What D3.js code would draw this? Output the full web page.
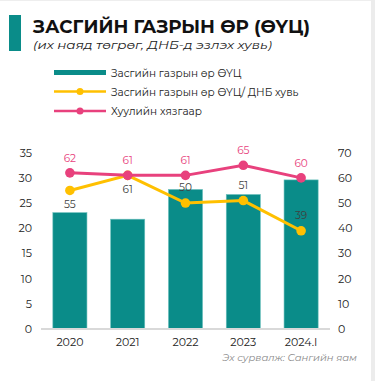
<!DOCTYPE html>
<html>
<head>
<meta charset="utf-8">
<script src="https://cdn.jsdelivr.net/npm/d3@7"></script>
<style>
  html, body { margin: 0; padding: 0; background: #fff; }
  svg { display: block; }
</style>
</head>
<body>
<svg id="chart" width="375" height="381"></svg>
<script>
// Government debt, trillion MNT, and its share of GDP
const years = ["2020", "2021", "2022", "2023", "2024.I"];
const debt = [23.1, 21.8, 27.7, 26.7, 29.6];
const debtToGdp = [55, 61, 50, 51, 39];
const legalLimit = [62, 61, 61, 65, 60];
const leftTicks = [0, 5, 10, 15, 20, 25, 30, 35];
const rightTicks = [0, 10, 20, 30, 40, 50, 60, 70];
// label position of the debt/GDP values: 1 = below the point, 0 = above
const ratioLabelBelow = [1, 1, 0, 0, 0];

const teal = "#0a8c89", yellow = "#ffc000", pink = "#e8417d";
const font = "Montserrat, 'DejaVu Sans', sans-serif";

const svg = d3.select("#chart");

// frame
svg.append("rect").attr("x", 0).attr("y", 0).attr("width", 375).attr("height", 1).attr("fill", "#eeeeee");
svg.append("rect").attr("x", 371).attr("y", 0).attr("width", 4).attr("height", 381).attr("fill", "#ececec");

// title block
svg.append("rect").attr("x", 9).attr("y", 15).attr("width", 12).attr("height", 36).attr("fill", teal);
svg.append("text").attr("x", 33).attr("y", 33)
  .attr("font-family", font).attr("font-weight", "bold").attr("font-size", 17.5)
  .attr("fill", "#111").attr("textLength", 277).attr("lengthAdjust", "spacingAndGlyphs")
  .text("ЗАСГИЙН ГАЗРЫН ӨР (ӨҮЦ)");
svg.append("text").attr("x", 33).attr("y", 49)
  .attr("font-family", font).attr("font-style", "italic").attr("font-size", 12)
  .attr("fill", "#222").attr("textLength", 239).attr("lengthAdjust", "spacingAndGlyphs")
  .text("(их наяд төгрөг, ДНБ-д эзлэх хувь)");

// legend
const legend = svg.append("g").attr("font-family", font).attr("font-size", 10.5).attr("fill", "#222");
legend.append("rect").attr("x", 54).attr("y", 70).attr("width", 52).attr("height", 5).attr("fill", teal);
legend.append("text").attr("x", 111).attr("y", 76.5).text("Засгийн газрын өр ӨҮЦ");
[[yellow, 91.5, "Засгийн газрын өр ӨҮЦ/ ДНБ хувь"], [pink, 111, "Хуулийн хязгаар"]].forEach(([c, y, t]) => {
  legend.append("line").attr("x1", 54).attr("x2", 106).attr("y1", y).attr("y2", y)
    .attr("stroke", c).attr("stroke-width", 2.5);
  legend.append("circle").attr("cx", 80).attr("cy", y).attr("r", 3.5).attr("fill", c);
  legend.append("text").attr("x", 111).attr("y", y + 4).text(t);
});

// scales
const x = d3.scaleBand().domain(years).range([41, 330]).paddingInner(0.41).paddingOuter(0.205);
const yL = d3.scaleLinear().domain([0, 35]).range([329, 152.7]);
const yR = d3.scaleLinear().domain([0, 70]).range([329, 152.7]);
const cx = d => x(d) + x.bandwidth() / 2;

// axes
const axisStyle = g => {
  g.select(".domain").remove();
  g.selectAll(".tick line").remove();
  g.selectAll("text").attr("font-family", font).attr("font-size", 11).attr("fill", "#222");
};
svg.append("g").attr("transform", "translate(32,0)")
  .call(d3.axisLeft(yL).tickValues(leftTicks).tickSize(0).tickPadding(0)).call(axisStyle);
svg.append("g").attr("transform", "translate(338,0)")
  .call(d3.axisRight(yR).tickValues(rightTicks).tickSize(0).tickPadding(0)).call(axisStyle);
svg.append("g").attr("transform", "translate(0,330)")
  .call(d3.axisBottom(x).tickSize(0).tickPadding(8)).call(axisStyle);

// bars
svg.append("g").selectAll("rect").data(years).join("rect")
  .attr("x", d => x(d)).attr("width", x.bandwidth())
  .attr("y", (d, i) => yL(debt[i])).attr("height", (d, i) => yL(0) - yL(debt[i]))
  .attr("fill", teal).attr("stroke", "#6cc0bd").attr("stroke-width", 0.6);

// baseline
svg.append("line").attr("x1", 41).attr("x2", 330).attr("y1", yL(0)).attr("y2", yL(0))
  .attr("stroke", "#d9d9d9").attr("stroke-width", 2);

// lines
const line = d3.line().x((d, i) => cx(years[i])).y(d => yR(d));
[[debtToGdp, yellow], [legalLimit, pink]].forEach(([vals, c]) => {
  svg.append("path").datum(vals).attr("d", line).attr("fill", "none")
    .attr("stroke", c).attr("stroke-width", 3);
  svg.append("g").selectAll("circle").data(vals).join("circle")
    .attr("cx", (d, i) => cx(years[i])).attr("cy", d => yR(d)).attr("r", 4.8).attr("fill", c);
});

// value labels
svg.append("g").selectAll("text").data(legalLimit).join("text")
  .attr("x", (d, i) => cx(years[i])).attr("y", d => yR(d) - 11)
  .attr("text-anchor", "middle").attr("font-family", font).attr("font-size", 10.5).attr("fill", pink)
  .text(d => d);
svg.append("g").selectAll("text").data(debtToGdp).join("text")
  .attr("x", (d, i) => cx(years[i])).attr("y", (d, i) => ratioLabelBelow[i] ? yR(d) + 18 : yR(d) - 12)
  .attr("text-anchor", "middle").attr("font-family", font).attr("font-size", 10.5).attr("fill", "#404040")
  .text(d => d);

// source
svg.append("text").attr("x", 357).attr("y", 361).attr("text-anchor", "end")
  .attr("font-family", font).attr("font-style", "italic").attr("font-size", 10).attr("fill", "#8a8a8a")
  .text("Эх сурвалж: Сангийн яам");
</script>
</body>
</html>
